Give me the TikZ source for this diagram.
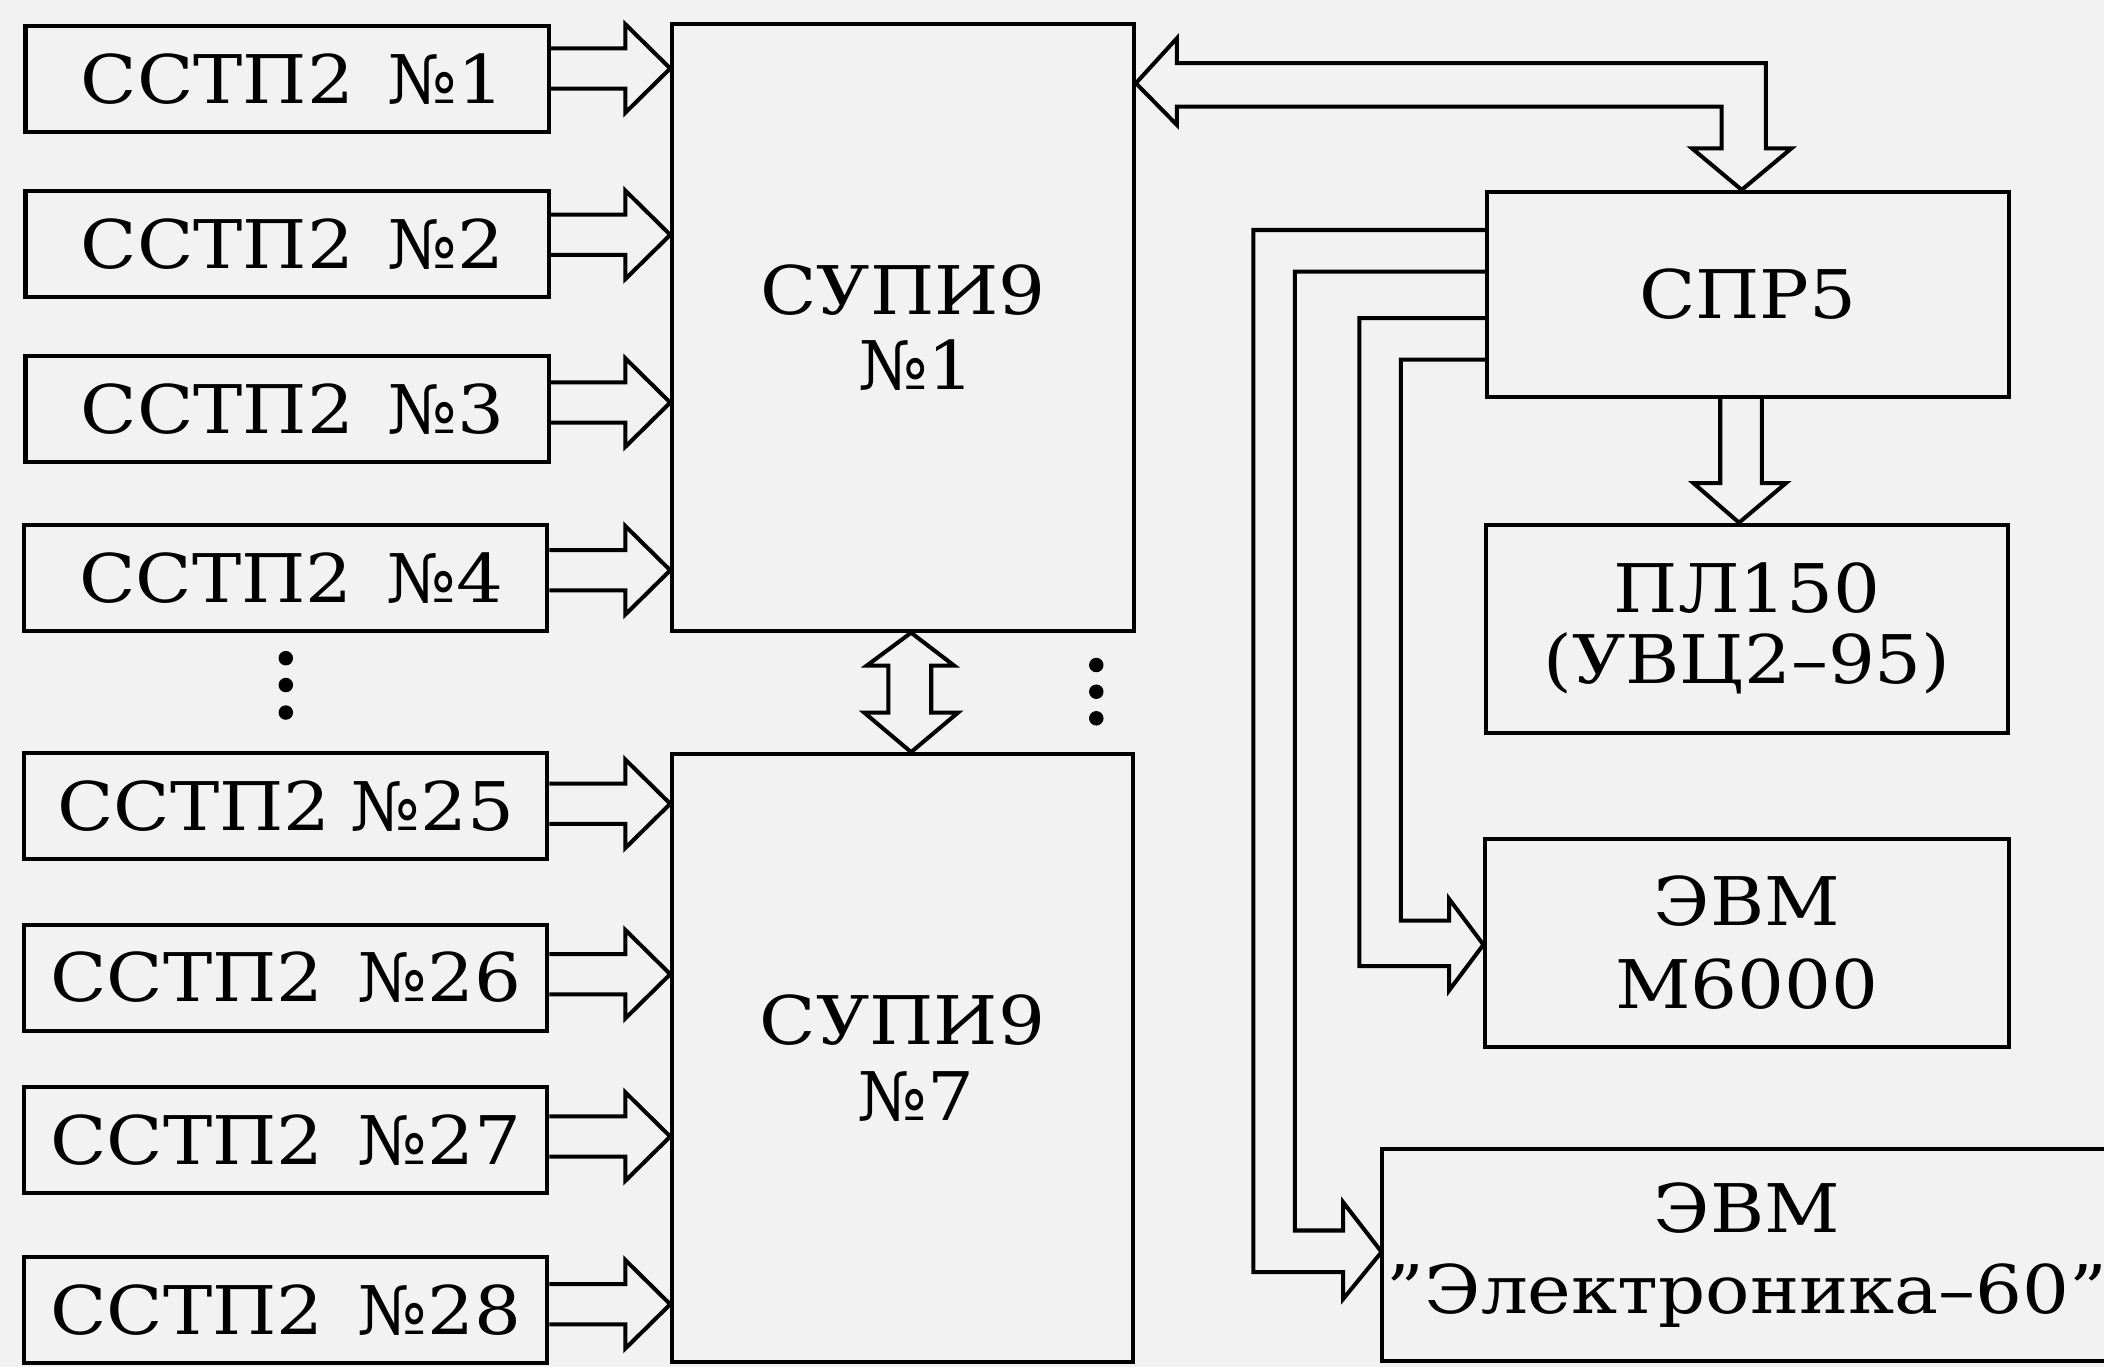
\documentclass[tikz,border=0pt]{standalone}
\usepackage{fontspec}
\setmainfont{DejaVu Serif}[FakeStretch=1.1]
\definecolor{bgc}{HTML}{F2F2F2}
\newcommand\boxfont{\fontsize{25}{28}\selectfont}
\newcommand\inarrow[3]{%
  \pgfmathsetmacro\ya{#3-15}\pgfmathsetmacro\yb{#3+15}%
  \pgfmathsetmacro\yc{#3-33}\pgfmathsetmacro\yd{#3+33}%
  \draw[fat] (#1.east |- 0,\ya) -- (466,\ya) -- (466,\yc) -- (#2.west |- 0,#3) -- (466,\yd) -- (466,\yb) -- (#1.east |- 0,\yb);}
\begin{document}
\begin{tikzpicture}[x=0.5pt,y=-0.5pt,
  box/.style={draw, line width=1.5pt, inner sep=0pt, align=center, font=\boxfont},
  inbox/.style={box, minimum width=195pt, minimum height=39.5pt},
  fat/.style={draw, line width=1.5pt, line join=miter, miter limit=20},
  dot/.style={fill=black}]
\fill[bgc] (0,0) rectangle (1568,1019);
\useasboundingbox (0,0) rectangle (1568,1019);
% input boxes
\node[inbox] (b1) at (214,59) {\hspace*{4pt}ССТП2\hspace{0.5em}№1};
\node[inbox] (b2) at (214,182) {\hspace*{4pt}ССТП2\hspace{0.5em}№2};
\node[inbox] (b3) at (214,305) {\hspace*{4pt}ССТП2\hspace{0.5em}№3};
\node[inbox] (b4) at (213,430.5) {\hspace*{4pt}ССТП2\hspace{0.5em}№4};
\node[inbox] (b25) at (213,600.5) {ССТП2\hspace{0.3em}№25};
\node[inbox] (b26) at (213,728.5) {ССТП2\hspace{0.5em}№26};
\node[inbox] (b27) at (213,849.5) {ССТП2\hspace{0.5em}№27};
\node[inbox] (b28) at (213,976) {ССТП2\hspace{0.5em}№28};
% main units
\node[box, minimum width=172pt, minimum height=226pt] (s1) at (673,244) {СУПИ9\\\hspace*{10pt}№1};
\node[box, minimum width=171.5pt, minimum height=226.5pt] (s7) at (672.5,788.5) {СУПИ9\\\hspace*{10pt}№7};
% right column
\node[box, minimum width=194.5pt, minimum height=76.5pt] (sp) at (1302.5,219.5) {СПР5};
\node[box, minimum width=194.5pt, minimum height=77.5pt, font=\fontsize{25}{26.5}\selectfont] (pl) at (1302,468.5) {ПЛ150\\(УВЦ2–95)};
\node[box, minimum width=195pt, minimum height=77.5pt, font=\fontsize{25}{31}\selectfont] (m6) at (1302,702.5) {ЭВМ\\М6000};
\node[inner sep=0pt, align=center, font=\fontsize{25}{30}\selectfont, minimum width=272pt, minimum height=78.5pt] (el) at (1302,935.5) {ЭВМ\\”Электроника–60”};
\draw[line width=1.5pt] (el.north east) -- (el.north west) -- (el.south west) -- (el.south east);
% input arrows
\inarrow{b1}{s1}{51}
\inarrow{b2}{s1}{175}
\inarrow{b3}{s1}{300}
\inarrow{b4}{s1}{425}
\inarrow{b25}{s7}{599}
\inarrow{b26}{s7}{726}
\inarrow{b27}{s7}{847}
\inarrow{b28}{s7}{972}
% double arrow between main units
\draw[fat] (679,0 |- s1.south) -- (711,496) -- (694,496) -- (694,531) -- (714,531) -- (679,0 |- s7.north) -- (644,531) -- (662,531) -- (662,496) -- (646,496) -- cycle;
% bus between s1 and sp
\draw[fat] (s1.east |- 0,62) -- (877,28.6) -- (877,47) -- (1316,47) -- (1316,110.6) -- (1335,110.6) -- (1298,0 |- sp.north) -- (1261,110.6) -- (1283,110.6) -- (1283,79.5) -- (877,79.5) -- (877,93) -- cycle;
% sp to pl
\draw[fat] (sp.south -| 1282,0) -- (1282,360) -- (1262,360) -- (1296,0 |- pl.north) -- (1331,360) -- (1313,360) -- (sp.south -| 1313,0);
% sp to m6
\draw[fat] (sp.west |- 0,268) -- (1044,268) -- (1044,686) -- (1080,686) -- (1080,670) -- (m6.west |- 0,704) -- (1080,738) -- (1080,720) -- (1013,720) -- (1013,237) -- (sp.west |- 0,237);
% sp to el
\draw[fat] (sp.west |- 0,202.5) -- (965,202.5) -- (965,917) -- (1001,917) -- (1001,896) -- (el.west |- 0,933) -- (1001,968) -- (1001,948) -- (934,948) -- (934,171.4) -- (sp.west |- 0,171.4);
% dots
\fill[dot] (213,490.5) circle[radius=2.7pt];
\fill[dot] (213,510.5) circle[radius=2.7pt];
\fill[dot] (213,531) circle[radius=2.7pt];
\fill[dot] (817,495.6) circle[radius=2.7pt];
\fill[dot] (817,515.5) circle[radius=2.7pt];
\fill[dot] (817,535.3) circle[radius=2.7pt];
\end{tikzpicture}
\end{document}
